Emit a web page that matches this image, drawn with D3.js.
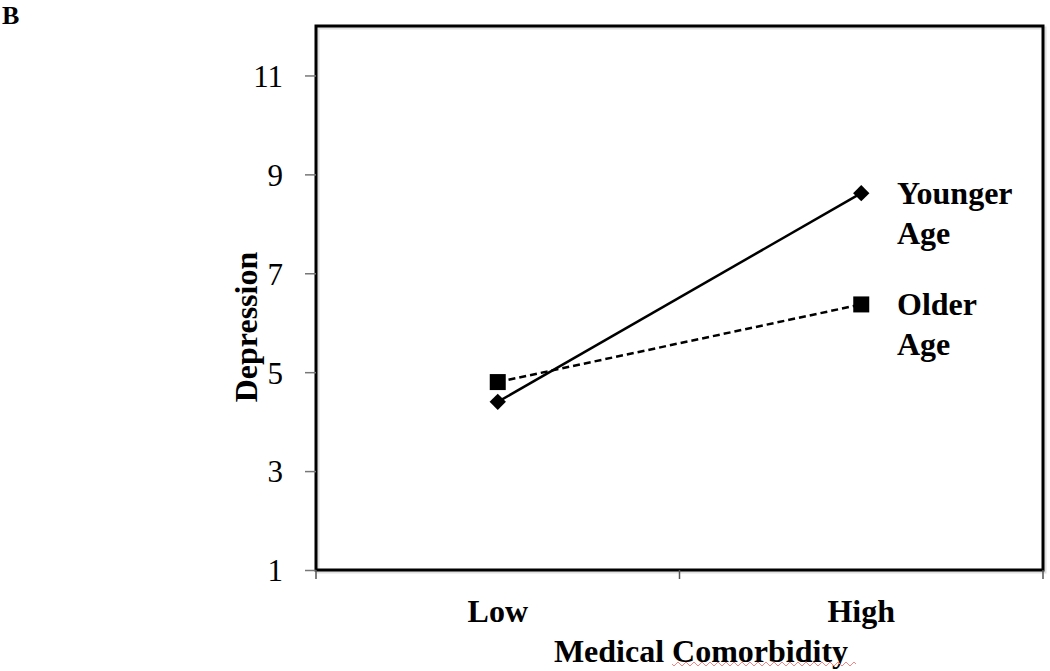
<!DOCTYPE html>
<html><head><meta charset="utf-8">
<script src="https://cdn.jsdelivr.net/npm/d3@7"></script>
<style>body{margin:0;background:#fff}svg{display:block}text{font-family:"Times New Roman","Liberation Serif",serif}</style>
</head><body>
<script>
const categories = ["Low", "High"];
const yTicks = [1, 3, 5, 7, 9, 11];
const seriesNames = ["Younger Age", "Older Age"];
const youngerValues = [4.4, 8.62];
const olderValues = [4.8, 6.37];

const W = 1050, H = 671;
const m = {left: 316, top: 26, right: 1043, bottom: 570};
const svg = d3.select("body").append("svg").attr("width", W).attr("height", H);

const x = d3.scaleBand().domain(categories).range([m.left, m.right]);
const y = d3.scaleLinear().domain([1, 12]).range([m.bottom, m.top]);

// panel label
svg.append("text").attr("x", 2).attr("y", 24).attr("font-size", 26).attr("font-weight", "bold").text("B");

// plot frame shadow + frame
svg.append("rect").attr("x", m.left + 2).attr("y", m.top + 2).attr("width", m.right - m.left).attr("height", m.bottom - m.top)
  .attr("fill", "none").attr("stroke", "#ccc").attr("stroke-width", 3).attr("opacity", 0.6);
svg.append("rect").attr("x", m.left).attr("y", m.top).attr("width", m.right - m.left).attr("height", m.bottom - m.top)
  .attr("fill", "none").attr("stroke", "#000").attr("stroke-width", 3);

// y axis
const yAxis = d3.axisLeft(y).tickValues(yTicks).tickSize(11).tickPadding(22).tickFormat(d3.format("d"));
const gy = svg.append("g").attr("transform", `translate(${m.left},0)`).call(yAxis);
gy.select(".domain").remove();
gy.selectAll(".tick line").attr("stroke", "#777").attr("stroke-width", 1.5);
gy.selectAll(".tick text").attr("font-size", 31).attr("fill", "#000").attr("dy", "0.35em")
  .style("font-family", '"Times New Roman","Liberation Serif",serif');

// x axis ticks at category boundaries
const bounds = [m.left, m.left + x.step(), m.right];
svg.selectAll(".xb").data(bounds).enter().append("line")
  .attr("x1", d => d).attr("x2", d => d).attr("y1", m.bottom).attr("y2", m.bottom + 9)
  .attr("stroke", "#555").attr("stroke-width", 1.5);
const xAxis = d3.axisBottom(x).tickSize(0).tickPadding(0);
const gx = svg.append("g").attr("transform", `translate(0,${m.bottom})`).call(xAxis);
gx.select(".domain").remove();
gx.selectAll(".tick text").attr("font-size", 32).attr("font-weight", "bold").attr("fill", "#000")
  .attr("dy", null).attr("y", 52).style("font-family", '"Times New Roman","Liberation Serif",serif');

// axis titles
svg.append("text").attr("x", 701).attr("y", 662).attr("text-anchor", "middle").attr("font-size", 32).attr("font-weight", "bold").text("Medical Comorbidity");
svg.append("text").attr("transform", "translate(257,327) rotate(-90)").attr("text-anchor", "middle").attr("font-size", 32).attr("font-weight", "bold").text("Depression");

// spell-check underline under "Comorbidity"
(function(){
  let d = "M672,664";
  for (let xx = 672; xx < 855; xx += 4) d += ` L${xx + 2},${xx % 8 === 0 ? 666 : 662} L${xx + 4},664`;
  svg.append("path").attr("d", d).attr("fill", "none").attr("stroke", "#e88").attr("stroke-width", 1);
})();

const cx = c => x(c) + x.bandwidth() / 2;
const line = d3.line().x((d, i) => cx(categories[i])).y(d => y(d));

// lines
svg.append("path").datum(youngerValues).attr("d", line).attr("fill", "none").attr("stroke", "#000").attr("stroke-width", 2.5);
svg.append("path").datum(olderValues).attr("d", line).attr("fill", "none").attr("stroke", "#000").attr("stroke-width", 2.5).attr("stroke-dasharray", "7,4");

// markers
svg.selectAll(".dia").data(youngerValues).enter().append("path")
  .attr("d", d3.symbol().type(d3.symbolDiamond2).size(170))
  .attr("transform", (d, i) => `translate(${cx(categories[i])},${y(d)})`).attr("fill", "#000");
svg.selectAll(".sq").data(olderValues).enter().append("rect")
  .attr("x", (d, i) => cx(categories[i]) - 8).attr("y", d => y(d) - 8).attr("width", 16).attr("height", 16).attr("fill", "#000");

// series labels
const lbl = [
  {name: seriesNames[0], v: youngerValues[1]},
  {name: seriesNames[1], v: olderValues[1]}
];
lbl.forEach(l => {
  const words = l.name.split(" ");
  const t = svg.append("text").attr("x", 897).attr("y", y(l.v) + 11).attr("font-size", 32).attr("font-weight", "bold");
  words.forEach((w, i) => t.append("tspan").attr("x", 897).attr("dy", i === 0 ? 0 : 40).text(w));
});
</script>
</body></html>
